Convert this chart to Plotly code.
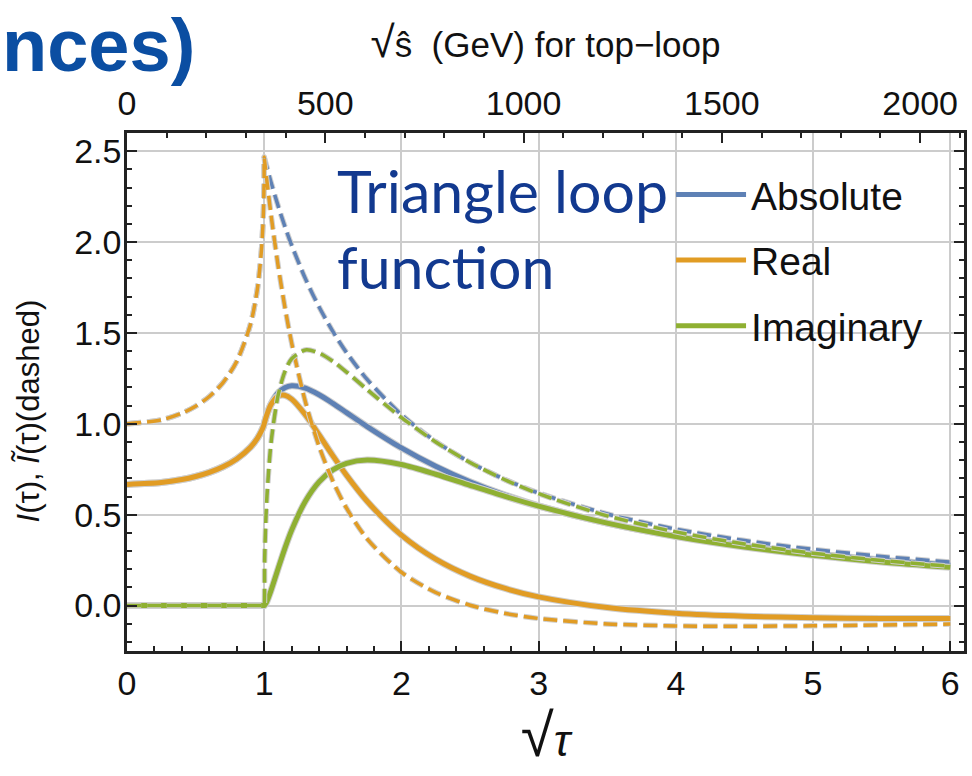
import plotly.graph_objects as go

# ---------------- data ----------------
sqrt_tau = [0.0, 0.25, 0.4, 0.5, 0.6, 0.7, 0.8, 0.9, 0.95, 0.98, 0.99, 0.995, 0.999, 1.0,
            1.003, 1.01, 1.02, 1.05, 1.1, 1.15, 1.2, 1.3, 1.4, 1.5, 1.6, 1.75, 2.0,
            2.25, 2.5, 2.75, 3.0, 3.5, 4.0, 4.5, 5.0, 5.5, 6.0]

# solid curves: I(tau)
abs_solid = [0.6667, 0.6767, 0.6933, 0.7101, 0.7329, 0.7637, 0.8068, 0.8715, 0.9200, 0.9606,
             0.9780, 0.9881, 0.9973, 1.0,
             1.0086, 1.0276, 1.0520, 1.1099, 1.1694, 1.1988, 1.2092, 1.1963, 1.1597, 1.1126,
             1.0617, 0.9850, 0.8671, 0.7661, 0.6810, 0.6095, 0.5490, 0.4535, 0.3822, 0.3275,
             0.2846, 0.2501, 0.2220]
real_solid = [0.6667, 0.6767, 0.6933, 0.7101, 0.7329, 0.7637, 0.8068, 0.8715, 0.9200, 0.9606,
              0.9780, 0.9881, 0.9973, 1.0,
              1.0086, 1.0276, 1.0518, 1.1067, 1.1522, 1.1571, 1.1358, 1.0496, 0.9390, 0.8250,
              0.7170, 0.5738, 0.3874, 0.2551, 0.1617, 0.0954, 0.0479, -0.0112, -0.0424, -0.0588,
              -0.0671, -0.0706, -0.0714]
imag_solid = [0.0, 0.0, 0.0, 0.0, 0.0, 0.0, 0.0, 0.0, 0.0, 0.0, 0.0, 0.0, 0.0, 0.0,
              0.0014, 0.0086, 0.0234, 0.0834, 0.1999, 0.3135, 0.4149, 0.5741, 0.6807, 0.7466,
              0.7829, 0.8006, 0.7758, 0.7224, 0.6616, 0.6020, 0.5469, 0.4533, 0.3798, 0.3222,
              0.2766, 0.2400, 0.2102]

# dashed curves: I~(tau)
abs_dashed = [1.0, 1.0216, 1.0584, 1.0966, 1.1503, 1.2270, 1.3436, 1.5480, 1.7403, 1.9556,
              2.0843, 2.1849, 2.3336, 2.4674,
              2.4586, 2.4386, 2.4099, 2.3280, 2.2020, 2.0871, 1.9825, 1.7986, 1.6424, 1.5083,
              1.3920, 1.2442, 1.0505, 0.9030, 0.7876, 0.6950, 0.6194, 0.5039, 0.4203, 0.3575,
              0.3089, 0.2703, 0.2391]
real_dashed = [1.0, 1.0216, 1.0584, 1.0966, 1.1503, 1.2270, 1.3436, 1.5480, 1.7403, 1.9556,
               2.0843, 2.1849, 2.3336, 2.4674,
               2.4467, 2.3992, 2.3333, 2.1481, 1.8768, 1.6443, 1.4445, 1.1214, 0.8754, 0.6850,
               0.5357, 0.3672, 0.1833, 0.0718, 0.0020, -0.0425, -0.0711, -0.1010, -0.1119,
               -0.1138, -0.1115, -0.1072, -0.1020]
imag_dashed = [0.0, 0.0, 0.0, 0.0, 0.0, 0.0, 0.0, 0.0, 0.0, 0.0, 0.0, 0.0, 0.0, 0.0,
               0.2418, 0.4352, 0.6029, 0.8974, 1.1517, 1.2854, 1.3578, 1.4062, 1.3897, 1.3438,
               1.2848, 1.1888, 1.0343, 0.9002, 0.7876, 0.6937, 0.6153, 0.4936, 0.4052, 0.3389,
               0.2881, 0.2482, 0.2162]

series_names = ["Absolute", "Real", "Imaginary"]
series_colors = ["#5E81B5", "#E19C24", "#8FB032"]

gev_per_unit = 346.0          # sqrt(s_hat) = sqrt(tau) * 2 m_top
x_range = [0.0, 6.1]
y_range = [-0.25, 2.6]
top_ticks = [0, 500, 1000, 1500, 2000]

# ---------------- figure ----------------
FONT = "Liberation Sans, Arial, Helvetica, sans-serif"
HALO = "#cfcfcf"
DASH = "14px,6px"

fig = go.Figure()

solid_sets = [abs_solid, real_solid, imag_solid]
dashed_sets = [abs_dashed, real_dashed, imag_dashed]

for name, col, ys in zip(series_names, series_colors, solid_sets):
    fig.add_trace(go.Scatter(x=sqrt_tau, y=ys, mode="lines", showlegend=False,
                             hoverinfo="skip",
                             line=dict(color=HALO, width=7, shape="spline", smoothing=0.8)))
    fig.add_trace(go.Scatter(x=sqrt_tau, y=ys, mode="lines", name=name,
                             legendgroup=name,
                             line=dict(color=col, width=5, shape="spline", smoothing=0.8)))

for name, col, ys in zip(series_names, series_colors, dashed_sets):
    fig.add_trace(go.Scatter(x=sqrt_tau, y=ys, mode="lines", showlegend=False,
                             hoverinfo="skip",
                             line=dict(color=HALO, width=5.5, dash=DASH, shape="spline",
                                       smoothing=0.8)))
    fig.add_trace(go.Scatter(x=sqrt_tau, y=ys, mode="lines", name=name + " (dashed)",
                             showlegend=False, legendgroup=name,
                             line=dict(color=col, width=3.5, dash=DASH, shape="spline",
                                       smoothing=0.8)))

# invisible trace to carry the top (GeV) axis
fig.add_trace(go.Scatter(x=[top_ticks[0], top_ticks[-1]], y=[None, None], xaxis="x2",
                         mode="lines", showlegend=False, hoverinfo="skip"))

tick_font = dict(family=FONT, size=34, color="#111111")
axis_common = dict(showline=True, linecolor="#222222", linewidth=2.5,
                   ticks="inside", tickcolor="#222222", tickwidth=2, ticklen=10,
                   tickfont=tick_font, zeroline=False)

fig.update_layout(
    width=972, height=776,
    margin=dict(l=127, r=5, t=133, b=125),
    plot_bgcolor="white", paper_bgcolor="white",
    font=dict(family=FONT, color="#111111"),
    xaxis=dict(range=x_range, dtick=1, tick0=0,
               showgrid=True, gridcolor="#cccccc", gridwidth=2,
               minor=dict(ticks="inside", dtick=0.2, ticklen=5, tickwidth=1.5,
                          tickcolor="#222222", showgrid=False),
               ticklabelstandoff=0,
               title=dict(text="<span style='font-size:60px'>√</span><i>τ</i>",
                          font=dict(family=FONT, size=44, color="#111111"), standoff=14),
               **axis_common),
    xaxis2=dict(range=[x_range[0] * gev_per_unit, x_range[1] * gev_per_unit],
                overlaying="x", side="top", anchor="y",
                tickvals=top_ticks, showgrid=False,
                minor=dict(ticks="inside", dtick=100, ticklen=5, tickwidth=1.5,
                           tickcolor="#222222"),
                ticklabelstandoff=2,
                title=dict(text="<span style='font-size:44px'>√</span>ŝ  (GeV) for top−loop",
                           font=dict(family=FONT, size=35, color="#111111"), standoff=16),
                **axis_common),
    yaxis=dict(range=y_range, dtick=0.5, tick0=0, tickformat=".1f",
               showgrid=True, gridcolor="#cccccc", gridwidth=2,
               mirror="ticks",
               minor=dict(ticks="inside", dtick=0.1, ticklen=5, tickwidth=1.5,
                          tickcolor="#222222", showgrid=False),
               ticklabelstandoff=-4,
               **axis_common),
    legend=dict(x=0.65, y=0.943, xanchor="left", yanchor="top",
                bgcolor="rgba(0,0,0,0)", borderwidth=0,
                font=dict(family=FONT, size=39, color="#111111"),
                itemwidth=70, tracegroupgap=12, traceorder="grouped"),
    annotations=[
        dict(text="<i>I</i>(τ), <i>Ĩ</i>(τ)(dashed)", xref="paper", yref="paper",
             x=-0.118, y=0.463, xanchor="center", yanchor="middle", textangle=-90,
             showarrow=False, font=dict(family=FONT, size=31, color="#111111")),
        dict(text="Triangle loop", xref="paper", yref="paper",
             x=0.248, y=0.889, xanchor="left", yanchor="middle", showarrow=False,
             font=dict(family="Lato, Open Sans, sans-serif", size=59, color="#12398F")),
        dict(text="function", xref="paper", yref="paper",
             x=0.248, y=0.742, xanchor="left", yanchor="middle", showarrow=False,
             font=dict(family="Lato, Open Sans, sans-serif", size=59, color="#12398F")),
        dict(text="<b>nces)</b>", xref="paper", yref="paper",
             x=-0.1512, y=1.168, xanchor="left", yanchor="middle", showarrow=False,
             font=dict(family=FONT, size=74, color="#0B4EA2")),
    ],
)

fig.write_html("out.html")
